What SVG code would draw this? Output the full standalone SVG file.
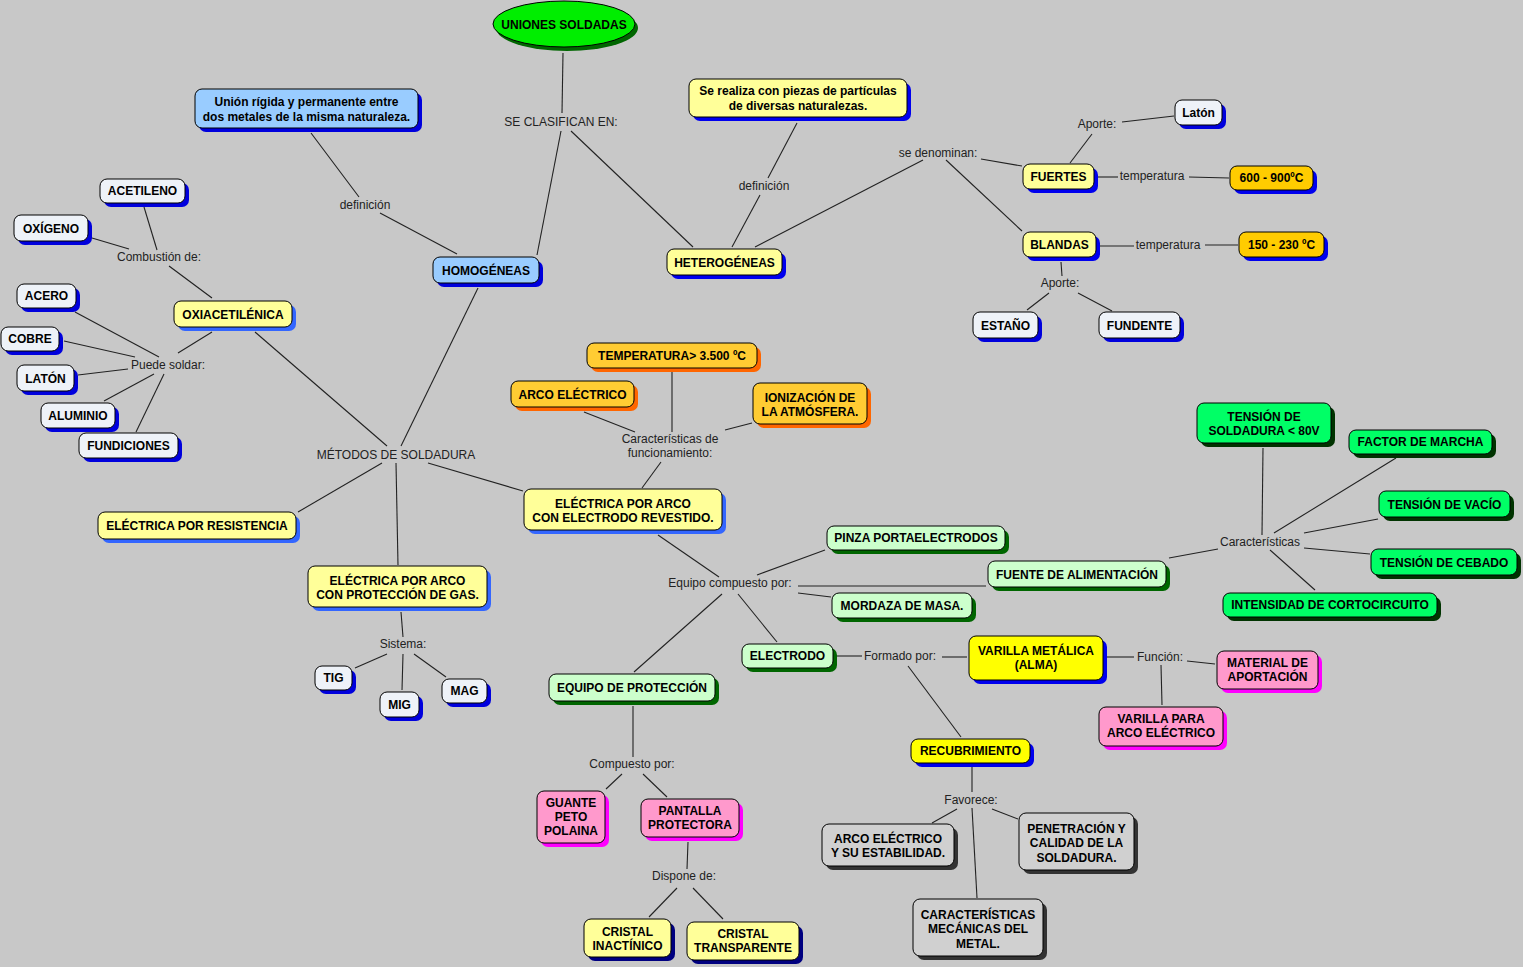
<svg xmlns="http://www.w3.org/2000/svg" width="1523" height="967" viewBox="0 0 1523 967">
<style>
text{font-family:"Liberation Sans",Arial,Helvetica,sans-serif;font-size:12px;text-anchor:middle}
.n text{font-weight:bold;fill:#000}
.n .f{stroke:#000;stroke-width:1}
.lbl{fill:#222}
#connectors line{stroke:#222;stroke-width:1.1}
.hb .f{fill:#99ccff}.hb .s{fill:#0000dd}
.yl .f{fill:#ffff99}.yl .s{fill:#0000ee}
.ye .f{fill:#ffff99}.ye .s{fill:#3366ff}
.wh .f{fill:#eef2f8}.wh .s{fill:#0000dd}
.or .f{fill:#ffcc00}.or .s{fill:#0000ee}
.oa .f{fill:#ffcc33}.oa .s{fill:#ff6600}
.lg .f{fill:#ccffcc}.lg .s{fill:#006600}
.bg .f{fill:#00ff66}.bg .s{fill:#003300}
.pk .f{fill:#ff99cc}.pk .s{fill:#ff00ff}
.yy .f{fill:#ffff00}.yy .s{fill:#0000ee}
.gy .f{fill:#d0d0d0}.gy .s{fill:#333333}
.cr .f{fill:#ffff99}.cr .s{fill:#000080}
</style>
<rect x="0" y="0" width="1523" height="967" fill="#c8c8c8"/>
<g id="connectors">
<line x1="563" y1="53" x2="562" y2="113"/>
<line x1="561" y1="131" x2="537" y2="255"/>
<line x1="571" y1="131" x2="693" y2="247"/>
<line x1="311" y1="133" x2="359" y2="197"/>
<line x1="380" y1="213" x2="457" y2="254"/>
<line x1="478" y1="288" x2="401" y2="446"/>
<line x1="797" y1="123" x2="768" y2="178"/>
<line x1="760" y1="195" x2="732" y2="247"/>
<line x1="755" y1="247" x2="923" y2="160"/>
<line x1="981" y1="159" x2="1022" y2="166"/>
<line x1="946" y1="160" x2="1022" y2="231"/>
<line x1="1070" y1="163" x2="1092" y2="134"/>
<line x1="1122" y1="122" x2="1174" y2="116"/>
<line x1="1098" y1="177" x2="1118" y2="177"/>
<line x1="1189" y1="177" x2="1229" y2="178"/>
<line x1="1100" y1="246" x2="1134" y2="246"/>
<line x1="1205" y1="245" x2="1238" y2="245"/>
<line x1="1061" y1="262" x2="1062" y2="276"/>
<line x1="1049" y1="293" x2="1027" y2="310"/>
<line x1="1078" y1="293" x2="1112" y2="311"/>
<line x1="144" y1="207" x2="157" y2="250"/>
<line x1="92" y1="238" x2="129" y2="249"/>
<line x1="169" y1="266" x2="212" y2="298"/>
<line x1="212" y1="332" x2="178" y2="353"/>
<line x1="75" y1="312" x2="159" y2="357"/>
<line x1="64" y1="341" x2="135" y2="357"/>
<line x1="78" y1="375" x2="128" y2="369"/>
<line x1="104" y1="401" x2="154" y2="374"/>
<line x1="136" y1="432" x2="164" y2="374"/>
<line x1="255" y1="332" x2="387" y2="446"/>
<line x1="382" y1="463" x2="298" y2="512"/>
<line x1="396" y1="463" x2="398" y2="565"/>
<line x1="428" y1="463" x2="523" y2="491"/>
<line x1="401" y1="612" x2="403" y2="637"/>
<line x1="387" y1="654" x2="355" y2="668"/>
<line x1="403" y1="654" x2="402" y2="690"/>
<line x1="414" y1="654" x2="446" y2="677"/>
<line x1="584" y1="412" x2="635" y2="432"/>
<line x1="672" y1="372" x2="672" y2="432"/>
<line x1="752" y1="423" x2="725" y2="430"/>
<line x1="661" y1="462" x2="642" y2="488"/>
<line x1="658" y1="535" x2="719" y2="577"/>
<line x1="757" y1="575" x2="825" y2="550"/>
<line x1="798" y1="586" x2="986" y2="586"/>
<line x1="798" y1="593" x2="831" y2="597"/>
<line x1="722" y1="594" x2="634" y2="672"/>
<line x1="738" y1="594" x2="777" y2="642"/>
<line x1="837" y1="656" x2="862" y2="656"/>
<line x1="942" y1="657" x2="967" y2="657"/>
<line x1="908" y1="666" x2="961" y2="737"/>
<line x1="1106" y1="657" x2="1134" y2="657"/>
<line x1="1187" y1="661" x2="1215" y2="664"/>
<line x1="1161" y1="665" x2="1162" y2="705"/>
<line x1="972" y1="767" x2="972" y2="792"/>
<line x1="957" y1="809" x2="932" y2="823"/>
<line x1="992" y1="809" x2="1018" y2="819"/>
<line x1="972" y1="808" x2="977" y2="898"/>
<line x1="633" y1="706" x2="633" y2="757"/>
<line x1="622" y1="774" x2="606" y2="789"/>
<line x1="643" y1="774" x2="667" y2="797"/>
<line x1="688" y1="842" x2="687" y2="869"/>
<line x1="677" y1="888" x2="649" y2="917"/>
<line x1="693" y1="888" x2="723" y2="919"/>
<line x1="1169" y1="558" x2="1218" y2="549"/>
<line x1="1263" y1="448" x2="1262" y2="535"/>
<line x1="1396" y1="458" x2="1274" y2="533"/>
<line x1="1378" y1="519" x2="1304" y2="533"/>
<line x1="1370" y1="554" x2="1304" y2="548"/>
<line x1="1315" y1="590" x2="1270" y2="550"/>
</g>
<g id="labels">
<text class="lbl" x="561" y="126">SE CLASIFICAN EN:</text>
<text class="lbl" x="365" y="209">definición</text>
<text class="lbl" x="764" y="190">definición</text>
<text class="lbl" x="938" y="157">se denominan:</text>
<text class="lbl" x="1097" y="128">Aporte:</text>
<text class="lbl" x="1152" y="180">temperatura</text>
<text class="lbl" x="1168" y="249">temperatura</text>
<text class="lbl" x="1060" y="287">Aporte:</text>
<text class="lbl" x="159" y="261">Combustión de:</text>
<text class="lbl" x="168" y="369">Puede soldar:</text>
<text class="lbl" x="396" y="459">MÉTODOS DE SOLDADURA</text>
<text class="lbl" x="670" y="443">Características de</text>
<text class="lbl" x="670" y="457">funcionamiento:</text>
<text class="lbl" x="730" y="587">Equipo compuesto por:</text>
<text class="lbl" x="403" y="648">Sistema:</text>
<text class="lbl" x="632" y="768">Compuesto por:</text>
<text class="lbl" x="684" y="880">Dispone de:</text>
<text class="lbl" x="900" y="660">Formado por:</text>
<text class="lbl" x="1160" y="661">Función:</text>
<text class="lbl" x="971" y="804">Favorece:</text>
<text class="lbl" x="1260" y="546">Características</text>
</g>
<g id="n-uniones" class="n">
<ellipse cx="567" cy="28" rx="71" ry="23" fill="#006600"/>
<ellipse cx="564" cy="24" rx="71" ry="23" fill="#00ee00" stroke="#000"/>
<text x="564" y="29">UNIONES SOLDADAS</text>
</g>
<g id="n-union-def" class="n hb"><rect class="s" x="199" y="93" width="223" height="39" rx="7"/><rect class="f" x="195" y="89" width="223" height="39" rx="7"/><text x="306.5" y="106">Unión rígida y permanente entre</text><text x="306.5" y="121">dos metales de la misma naturaleza.</text></g>
<g id="n-homogeneas" class="n hb"><rect class="s" x="437" y="261" width="106" height="26" rx="7"/><rect class="f" x="433" y="257" width="106" height="26" rx="7"/><text x="486" y="275">HOMOGÉNEAS</text></g>
<g id="n-se-realiza" class="n yl"><rect class="s" x="693" y="83" width="218" height="38" rx="7"/><rect class="f" x="689" y="79" width="218" height="38" rx="7"/><text x="798" y="95">Se realiza con piezas de partículas</text><text x="798" y="110">de diversas naturalezas.</text></g>
<g id="n-heterogeneas" class="n yl"><rect class="s" x="671" y="253" width="115" height="26" rx="7"/><rect class="f" x="667" y="249" width="115" height="26" rx="7"/><text x="724.5" y="267">HETEROGÉNEAS</text></g>
<g id="n-fuertes" class="n yl"><rect class="s" x="1027" y="168" width="71" height="25" rx="7"/><rect class="f" x="1023" y="164" width="71" height="25" rx="7"/><text x="1058.5" y="181">FUERTES</text></g>
<g id="n-blandas" class="n yl"><rect class="s" x="1027" y="236" width="73" height="25" rx="7"/><rect class="f" x="1023" y="232" width="73" height="25" rx="7"/><text x="1059.5" y="249">BLANDAS</text></g>
<g id="n-laton-top" class="n wh"><rect class="s" x="1179" y="104" width="47" height="25" rx="7"/><rect class="f" x="1175" y="100" width="47" height="25" rx="7"/><text x="1198.5" y="117">Latón</text></g>
<g id="n-t600" class="n or"><rect class="s" x="1234" y="170" width="83" height="24" rx="7"/><rect class="f" x="1230" y="166" width="83" height="24" rx="7"/><text x="1271.5" y="182">600 - 900ºC</text></g>
<g id="n-t150" class="n or"><rect class="s" x="1243" y="236" width="85" height="25" rx="7"/><rect class="f" x="1239" y="232" width="85" height="25" rx="7"/><text x="1281.5" y="249">150 - 230 ºC</text></g>
<g id="n-estano" class="n wh"><rect class="s" x="977" y="316" width="65" height="26" rx="7"/><rect class="f" x="973" y="312" width="65" height="26" rx="7"/><text x="1005.5" y="330">ESTAÑO</text></g>
<g id="n-fundente" class="n wh"><rect class="s" x="1103" y="316" width="81" height="26" rx="7"/><rect class="f" x="1099" y="312" width="81" height="26" rx="7"/><text x="1139.5" y="330">FUNDENTE</text></g>
<g id="n-acetileno" class="n wh"><rect class="s" x="104" y="183" width="85" height="24" rx="7"/><rect class="f" x="100" y="179" width="85" height="24" rx="7"/><text x="142.5" y="195">ACETILENO</text></g>
<g id="n-oxigeno" class="n wh"><rect class="s" x="18" y="219" width="74" height="26" rx="7"/><rect class="f" x="14" y="215" width="74" height="26" rx="7"/><text x="51" y="233">OXÍGENO</text></g>
<g id="n-acero" class="n wh"><rect class="s" x="21" y="288" width="59" height="24" rx="7"/><rect class="f" x="17" y="284" width="59" height="24" rx="7"/><text x="46.5" y="300">ACERO</text></g>
<g id="n-cobre" class="n wh"><rect class="s" x="5" y="331" width="58" height="24" rx="7"/><rect class="f" x="1" y="327" width="58" height="24" rx="7"/><text x="30" y="343">COBRE</text></g>
<g id="n-laton" class="n wh"><rect class="s" x="21" y="369" width="57" height="26" rx="7"/><rect class="f" x="17" y="365" width="57" height="26" rx="7"/><text x="45.5" y="383">LATÓN</text></g>
<g id="n-aluminio" class="n wh"><rect class="s" x="45" y="407" width="74" height="25" rx="7"/><rect class="f" x="41" y="403" width="74" height="25" rx="7"/><text x="78" y="420">ALUMINIO</text></g>
<g id="n-fundiciones" class="n wh"><rect class="s" x="83" y="437" width="99" height="25" rx="7"/><rect class="f" x="79" y="433" width="99" height="25" rx="7"/><text x="128.5" y="450">FUNDICIONES</text></g>
<g id="n-oxiacetilenica" class="n ye"><rect class="s" x="178" y="305" width="118" height="26" rx="7"/><rect class="f" x="174" y="301" width="118" height="26" rx="7"/><text x="233" y="319">OXIACETILÉNICA</text></g>
<g id="n-temp3500" class="n oa"><rect class="s" x="591" y="347" width="170" height="25" rx="7"/><rect class="f" x="587" y="343" width="170" height="25" rx="7"/><text x="672" y="360">TEMPERATURA&gt; 3.500 ºC</text></g>
<g id="n-arco-electrico" class="n oa"><rect class="s" x="515" y="385" width="123" height="26" rx="7"/><rect class="f" x="511" y="381" width="123" height="26" rx="7"/><text x="572.5" y="399">ARCO ELÉCTRICO</text></g>
<g id="n-ionizacion" class="n oa"><rect class="s" x="757" y="387" width="114" height="41" rx="7"/><rect class="f" x="753" y="383" width="114" height="41" rx="7"/><text x="810" y="402">IONIZACIÓN DE</text><text x="810" y="416">LA ATMÓSFERA.</text></g>
<g id="n-electrodo-revestido" class="n ye"><rect class="s" x="528" y="493" width="198" height="41" rx="7"/><rect class="f" x="524" y="489" width="198" height="41" rx="7"/><text x="623" y="508">ELÉCTRICA POR ARCO</text><text x="623" y="522">CON ELECTRODO REVESTIDO.</text></g>
<g id="n-resistencia" class="n ye"><rect class="s" x="102" y="516" width="198" height="27" rx="7"/><rect class="f" x="98" y="512" width="198" height="27" rx="7"/><text x="197" y="530">ELÉCTRICA POR RESISTENCIA</text></g>
<g id="n-gas" class="n ye"><rect class="s" x="312" y="570" width="179" height="41" rx="7"/><rect class="f" x="308" y="566" width="179" height="41" rx="7"/><text x="397.5" y="585">ELÉCTRICA POR ARCO</text><text x="397.5" y="599">CON PROTECCIÓN DE GAS.</text></g>
<g id="n-tig" class="n wh"><rect class="s" x="319" y="670" width="37" height="24" rx="7"/><rect class="f" x="315" y="666" width="37" height="24" rx="7"/><text x="333.5" y="682">TIG</text></g>
<g id="n-mig" class="n wh"><rect class="s" x="384" y="696" width="39" height="25" rx="7"/><rect class="f" x="380" y="692" width="39" height="25" rx="7"/><text x="399.5" y="709">MIG</text></g>
<g id="n-mag" class="n wh"><rect class="s" x="446" y="683" width="45" height="24" rx="7"/><rect class="f" x="442" y="679" width="45" height="24" rx="7"/><text x="464.5" y="695">MAG</text></g>
<g id="n-pinza" class="n lg"><rect class="s" x="831" y="530" width="178" height="24" rx="7"/><rect class="f" x="827" y="526" width="178" height="24" rx="7"/><text x="916" y="542">PINZA PORTAELECTRODOS</text></g>
<g id="n-fuente" class="n lg"><rect class="s" x="992" y="565" width="178" height="26" rx="7"/><rect class="f" x="988" y="561" width="178" height="26" rx="7"/><text x="1077" y="579">FUENTE DE ALIMENTACIÓN</text></g>
<g id="n-mordaza" class="n lg"><rect class="s" x="836" y="597" width="140" height="25" rx="7"/><rect class="f" x="832" y="593" width="140" height="25" rx="7"/><text x="902" y="610">MORDAZA DE MASA.</text></g>
<g id="n-electrodo" class="n lg"><rect class="s" x="746" y="648" width="91" height="24" rx="7"/><rect class="f" x="742" y="644" width="91" height="24" rx="7"/><text x="787.5" y="660">ELECTRODO</text></g>
<g id="n-equipo-proteccion" class="n lg"><rect class="s" x="553" y="678" width="166" height="27" rx="7"/><rect class="f" x="549" y="674" width="166" height="27" rx="7"/><text x="632" y="692">EQUIPO DE PROTECCIÓN</text></g>
<g id="n-guante" class="n pk"><rect class="s" x="541" y="795" width="68" height="52" rx="7"/><rect class="f" x="537" y="791" width="68" height="52" rx="7"/><text x="571" y="807">GUANTE</text><text x="571" y="821">PETO</text><text x="571" y="835">POLAINA</text></g>
<g id="n-pantalla" class="n pk"><rect class="s" x="645" y="803" width="98" height="38" rx="7"/><rect class="f" x="641" y="799" width="98" height="38" rx="7"/><text x="690" y="815">PANTALLA</text><text x="690" y="829">PROTECTORA</text></g>
<g id="n-inactinico" class="n cr"><rect class="s" x="588" y="923" width="87" height="38" rx="7"/><rect class="f" x="584" y="919" width="87" height="38" rx="7"/><text x="627.5" y="936">CRISTAL</text><text x="627.5" y="950">INACTÍNICO</text></g>
<g id="n-transparente" class="n cr"><rect class="s" x="691" y="926" width="112" height="38" rx="7"/><rect class="f" x="687" y="922" width="112" height="38" rx="7"/><text x="743" y="938">CRISTAL</text><text x="743" y="952">TRANSPARENTE</text></g>
<g id="n-varilla" class="n yy"><rect class="s" x="973" y="640" width="134" height="44" rx="7"/><rect class="f" x="969" y="636" width="134" height="44" rx="7"/><text x="1036" y="655">VARILLA METÁLICA</text><text x="1036" y="669">(ALMA)</text></g>
<g id="n-recubrimiento" class="n yy"><rect class="s" x="915" y="743" width="119" height="24" rx="7"/><rect class="f" x="911" y="739" width="119" height="24" rx="7"/><text x="970.5" y="755">RECUBRIMIENTO</text></g>
<g id="n-material" class="n pk"><rect class="s" x="1221" y="655" width="101" height="38" rx="7"/><rect class="f" x="1217" y="651" width="101" height="38" rx="7"/><text x="1267.5" y="667">MATERIAL DE</text><text x="1267.5" y="681">APORTACIÓN</text></g>
<g id="n-varilla-para" class="n pk"><rect class="s" x="1103" y="711" width="124" height="39" rx="7"/><rect class="f" x="1099" y="707" width="124" height="39" rx="7"/><text x="1161" y="723">VARILLA PARA</text><text x="1161" y="737">ARCO ELÉCTRICO</text></g>
<g id="n-arco-estabilidad" class="n gy"><rect class="s" x="826" y="828" width="132" height="42" rx="7"/><rect class="f" x="822" y="824" width="132" height="42" rx="7"/><text x="888" y="843">ARCO ELÉCTRICO</text><text x="888" y="857">Y SU ESTABILIDAD.</text></g>
<g id="n-penetracion" class="n gy"><rect class="s" x="1023" y="817" width="115" height="57" rx="7"/><rect class="f" x="1019" y="813" width="115" height="57" rx="7"/><text x="1076.5" y="833">PENETRACIÓN Y</text><text x="1076.5" y="847">CALIDAD DE LA</text><text x="1076.5" y="862">SOLDADURA.</text></g>
<g id="n-caracteristicas-mec" class="n gy"><rect class="s" x="917" y="903" width="130" height="57" rx="7"/><rect class="f" x="913" y="899" width="130" height="57" rx="7"/><text x="978" y="919">CARACTERÍSTICAS</text><text x="978" y="933">MECÁNICAS DEL</text><text x="978" y="948">METAL.</text></g>
<g id="n-tension-soldadura" class="n bg"><rect class="s" x="1201" y="407" width="134" height="40" rx="7"/><rect class="f" x="1197" y="403" width="134" height="40" rx="7"/><text x="1264" y="421">TENSIÓN DE</text><text x="1264" y="435">SOLDADURA &lt; 80V</text></g>
<g id="n-factor" class="n bg"><rect class="s" x="1353" y="434" width="143" height="24" rx="7"/><rect class="f" x="1349" y="430" width="143" height="24" rx="7"/><text x="1420.5" y="446">FACTOR DE MARCHA</text></g>
<g id="n-vacio" class="n bg"><rect class="s" x="1383" y="495" width="131" height="26" rx="7"/><rect class="f" x="1379" y="491" width="131" height="26" rx="7"/><text x="1444.5" y="509">TENSIÓN DE VACÍO</text></g>
<g id="n-cebado" class="n bg"><rect class="s" x="1375" y="553" width="146" height="26" rx="7"/><rect class="f" x="1371" y="549" width="146" height="26" rx="7"/><text x="1444" y="567">TENSIÓN DE CEBADO</text></g>
<g id="n-intensidad" class="n bg"><rect class="s" x="1227" y="597" width="214" height="24" rx="7"/><rect class="f" x="1223" y="593" width="214" height="24" rx="7"/><text x="1330" y="609">INTENSIDAD DE CORTOCIRCUITO</text></g>
</svg>
